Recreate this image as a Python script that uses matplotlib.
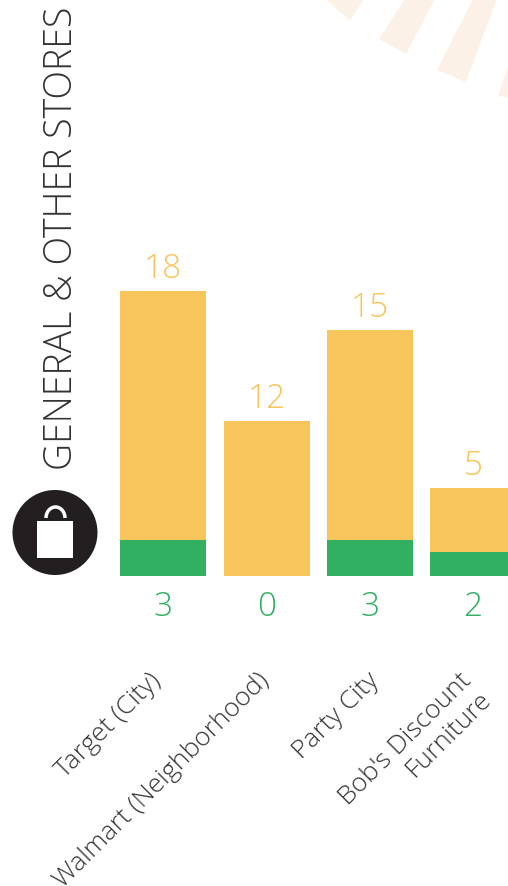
import matplotlib
matplotlib.use("Agg")
import matplotlib.pyplot as plt
from matplotlib.patches import Circle, Polygon, Rectangle, Arc

plt.rcParams["font.family"] = ["Open Sans", "DejaVu Sans"]

# Data
stores = ["Target (City)", "Walmart (Neighborhood)", "Party City", "Bob's Discount\nFurniture"]
totals = [18, 12, 15, 5]
greens = [3, 0, 3, 2]
# yellow segments as drawn in the picture, they are not to the same scale as the labels
yellow_drawn = [20.75, 12.9, 17.5, 5.3]
title = "GENERAL & OTHER STORES"

W, H = 508, 887
yellow = "#f8c45c"
green = "#30b060"
dark = "#231f20"
text_col = "#333333"

fig = plt.figure(figsize=(W/100, H/100), dpi=100)

# background layer in pixel coords
bg = fig.add_axes([0, 0, 1, 1])
bg.set_xlim(0, W); bg.set_ylim(H, 0); bg.axis("off")

# sun rays top right
rays = [[(325,0),(364,0),(350,21)],
        [(405,0),(435,0),(406,55),(379,40)],
        [(473,0),(497,0),(466,83),(437,71)],
        [(508,68),(508,99),(498,96)]]
for r in rays:
    bg.add_patch(Polygon(r, closed=True, fc="#fbf1e6", ec="none"))

# icon
bg.add_patch(Circle((55, 533.5), 42.5, fc=dark, ec="none"))
bg.add_patch(Rectangle((37, 522), 36, 37, fc="white", ec="none"))
bg.add_patch(Arc((55.5, 519), 19, 22, theta1=180, theta2=360, color="white", lw=2.5))

bg.text(62, 470, title, rotation=90, ha="center", va="bottom", fontsize=27,
        color=text_col, fontweight="light")

# bars, 12px per unit, baseline at 576
ax = fig.add_axes([0, 1-577/H, 1, 577/H])
ax.set_xlim(0, W); ax.set_ylim(0, 577/12)
ax.axis("off"); ax.patch.set_alpha(0)
xs = [163, 267, 370, 473]
ax.bar(xs, greens, width=86, color=green)
ax.bar(xs, yellow_drawn, width=86, bottom=greens, color=yellow)
for x, t, g, y in zip(xs, totals, greens, yellow_drawn):
    ax.text(x, g+y+0.5, str(t), ha="center", va="bottom", fontsize=24, color=yellow, fontweight="light")

for x, g in zip(xs, greens):
    bg.text(x, 607, str(g), ha="center", va="center", fontsize=24, color=green, fontweight="light")

label_pos = [(148, 668), (257, 668), (367, 668), (459, 668)]
for (x, y), s in zip(label_pos, stores):
    bg.text(x, y, s, rotation=45, ha="right", va="top", rotation_mode="anchor",
            fontsize=19, color=text_col, fontweight="light", multialignment="right", linespacing=1.1)

fig.savefig("out.png", dpi=100)
